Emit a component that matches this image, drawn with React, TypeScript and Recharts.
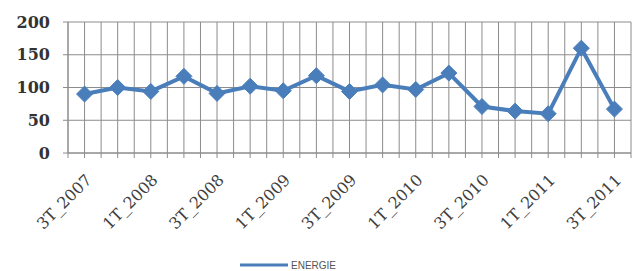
import { LineChart, Line, XAxis, YAxis, CartesianGrid, Legend } from 'recharts';

const quarters = [
  '3T_2007', '4T_2007', '1T_2008', '2T_2008', '3T_2008', '4T_2008',
  '1T_2009', '2T_2009', '3T_2009', '4T_2009', '1T_2010', '2T_2010',
  '3T_2010', '4T_2010', '1T_2011', '2T_2011', '3T_2011',
];
const energie = [90, 100, 94, 117, 91, 102, 95, 118, 94, 104, 97, 122, 71, 64, 60, 160, 67];
const yTicks = [0, 50, 100, 150, 200];

const data = quarters.map((q, i) => ({ idx: i, quarter: q, energie: energie[i] }));
// tick marks + vertical grid at every half category (centres and boundaries)
const xTicks = Array.from({ length: quarters.length * 2 + 1 }, (_, i) => i / 2 - 0.5);

const BLUE = '#4a7ebb';

const Diamond = (props: any) => {
  const { cx, cy } = props;
  if (cx == null || cy == null) return null;
  const r = 8;
  return (
    <polygon
      key={`d-${cx}`}
      points={`${cx},${cy - r} ${cx + r},${cy} ${cx},${cy + r} ${cx - r},${cy}`}
      fill={BLUE}
      stroke={BLUE}
    />
  );
};

const LegendBox = () => (
  <div style={{ display: 'flex', alignItems: 'center', height: 12, paddingLeft: 240 }}>
    <svg width={48} height={6} style={{ marginRight: 3 }}>
      <line x1={0} y1={3} x2={48} y2={3} stroke={BLUE} strokeWidth={3} />
    </svg>
    <span style={{ fontFamily: 'Liberation Sans, Arial, sans-serif', fontSize: 10, color: '#555' }}>ENERGIE</span>
  </div>
);

export default function App() {
  return (
    <div style={{ position: 'absolute', left: 0, top: 0, width: 635, height: 271, background: '#fff' }}>
      <LineChart width={635} height={271} data={data} margin={{ top: 22, right: 4, bottom: 4, left: 8 }}>
        <CartesianGrid stroke="#8c8c8c" strokeWidth={1} />
        <XAxis
          dataKey="idx"
          type="number"
          domain={[-0.5, quarters.length - 0.5]}
          ticks={xTicks}
          interval={0}
          tickFormatter={(v: number) => (Number.isInteger(v) && v % 2 === 0 ? quarters[v] : '')}
          angle={-45}
          textAnchor="end"
          height={102}
          tickSize={5}
          tickMargin={15}
          stroke="#8c8c8c"
          tick={{ fontSize: 16, fill: '#404040', fontFamily: 'DejaVu Serif, serif' }}
        />
        <YAxis
          domain={[0, 200]}
          ticks={yTicks}
          width={60}
          tickSize={5}
          tickMargin={13}
          stroke="#8c8c8c"
          tick={{ fontSize: 16, fontWeight: 'bold', fill: '#333', fontFamily: 'DejaVu Serif, serif' }}
        />
        <Legend verticalAlign="bottom" content={() => <LegendBox />} wrapperStyle={{ bottom: 0, left: 0, width: 635 }} />
        <Line
          type="linear"
          dataKey="energie"
          name="ENERGIE"
          stroke={BLUE}
          strokeWidth={4}
          dot={<Diamond />}
          activeDot={false}
          isAnimationActive={false}
        />
      </LineChart>
    </div>
  );
}
